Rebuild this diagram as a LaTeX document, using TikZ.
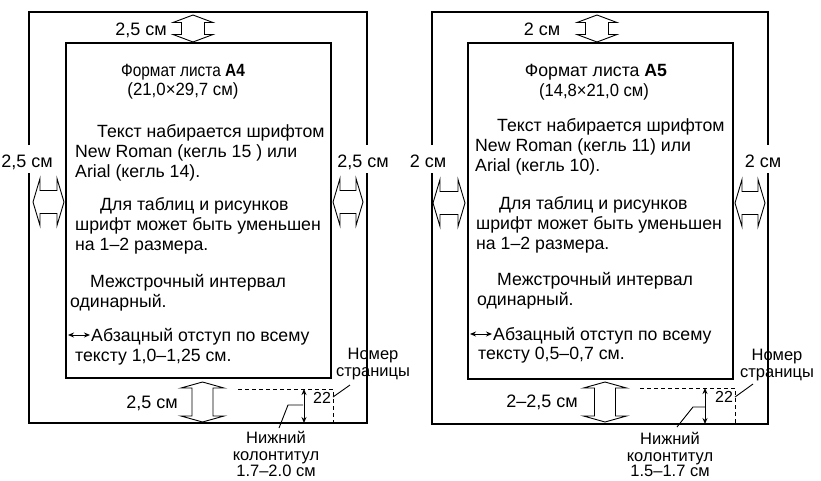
\documentclass[tikz,border=0pt]{standalone}
\usepackage{fontspec}
\setmainfont{Liberation Sans}
\usetikzlibrary{arrows.meta}
\newcommand{\blockV}[6]{% cx, ytop, ybot, shaft half, head half, head length
  \draw[blockarrow] (#1,#2) -- ({#1-#5},{#2+#6}) -- ({#1-#4},{#2+#6}) -- ({#1-#4},{#3-#6}) -- ({#1-#5},{#3-#6}) -- (#1,#3) -- ({#1+#5},{#3-#6}) -- ({#1+#4},{#3-#6}) -- ({#1+#4},{#2+#6}) -- ({#1+#5},{#2+#6}) -- cycle;}
\newcommand{\blockH}[6]{% cy, xleft, xright, shaft half, head half, head length
  \draw[blockarrow] (#2,#1) -- ({#2+#6},{#1-#5}) -- ({#2+#6},{#1-#4}) -- ({#3-#6},{#1-#4}) -- ({#3-#6},{#1-#5}) -- (#3,#1) -- ({#3-#6},{#1+#5}) -- ({#3-#6},{#1+#4}) -- ({#2+#6},{#1+#4}) -- ({#2+#6},{#1+#5}) -- cycle;}
\begin{document}
\begin{tikzpicture}[x=1pt,y=-1pt,
  frame/.style={line width=1.2pt,black},
  blockarrow/.style={line width=0.9pt,black,line join=miter},
  dash line/.style={line width=1pt,dash pattern=on 4pt off 3pt},
  thin arrow/.style={line width=1pt,{Stealth[length=6pt,width=5pt]}-{Stealth[length=6pt,width=5pt]}},
  leader/.style={line width=0.9pt},
  txt/.style={anchor=base west,inner sep=0pt,font=\fontsize{17.7}{20}\selectfont},
  ctxt/.style={anchor=base,inner sep=0pt,font=\fontsize{17.7}{20}\selectfont},
  lbl/.style={anchor=base,inner sep=0pt,font=\fontsize{18}{20}\selectfont},
  small lbl/.style={anchor=base,inner sep=0pt,font=\fontsize{16.5}{17}\selectfont},
  num/.style={anchor=base west,inner sep=0pt,font=\fontsize{16}{18}\selectfont}]
\useasboundingbox (0,0) rectangle (821,480);

% ================= LEFT PAGE (A4) =================
\draw[frame] (29,145) -- (29,12) -- (367,12) -- (367,145);
\draw[frame] (29,173) -- (29,423) -- (367,423) -- (367,173);
\draw[frame] (66,43) rectangle (331,378);

\node[lbl] (La) at (141,35) {2,5 см};
\node[lbl] (Lb) at (27,167) {2,5 см};
\node[lbl] (Lc) at (363,167) {2,5 см};
\node[lbl] (Ld) at (152,408) {2,5 см};

\blockV{193}{15}{42}{11.5}{20}{7.5}
\blockH{202}{33}{64}{11.5}{23.5}{7}
\blockH{202}{333}{363}{11.5}{23.5}{7}
\blockV{202.5}{382}{422}{10.5}{21.5}{6}

\node[ctxt] (L1) at (183,76) {\scalebox{0.87}[1]{Формат листа \textbf{A4}}};
\node[ctxt] (L2) at (183,95) {\scalebox{0.95}[1]{(21,0×29,7 см)}};
\node[txt] (L3) at (97,137) {Текст набирается шрифтом};
\node[txt] (L4) at (75,157) {New Roman (кегль 15 ) или};
\node[txt] (L5) at (75,177) {Arial (кегль 14).};
\node[txt] (L6) at (100,210) {Для таблиц и рисунков};
\node[txt] (L7) at (75,230) {шрифт может быть уменьшен};
\node[txt] (L8) at (75,250) {на 1–2 размера.};
\node[txt] (L9) at (90,287) {Межстрочный интервал};
\node[txt] (L10) at (70,307) {одинарный.};
\coordinate (La1) at (68,335);
\coordinate (La2) at (90,335);
\draw[thin arrow] (La1) -- (La2);
\node[txt] (L11) at (91,341) {Абзацный отступ по всему};
\node[txt] (L12) at (75,361) {тексту 1,0–1,25 см.};

% footer
\coordinate (Ld1) at (238,389);
\coordinate (Ld2) at (333,389);
\coordinate (Ld3) at (333,423);
\draw[dash line] (Ld1) -- (Ld2) -- (Ld3);
\coordinate (Lf1) at (304,389);
\coordinate (Lf2) at (304,423);
\draw[thin arrow] (Lf1) -- (Lf2);
\node[num] (Lnum) at (313,403) {22};
\node[small lbl] (Ln1) at (373,359) {Номер};
\node[small lbl] (Ln2) at (373,376) {страницы};
\coordinate (Lp1) at (333,397);
\coordinate (Lp2) at (350,385);
\draw[leader] (Lp1) -- (Lp2);
\node[small lbl] (Lk1) at (276,443) {Нижний};
\node[small lbl] (Lk2) at (276,460) {колонтитул};
\node[small lbl] (Lk3) at (276,476) {1.7–2.0 см};
\coordinate (Lq1) at (279,428);
\coordinate (Lq2) at (288,405);
\coordinate (Lq3) at (303,405);
\draw[leader] (Lq1) -- (Lq2) -- (Lq3);

% ================= RIGHT PAGE (A5) =================
\draw[frame] (432,145) -- (432,12) -- (768,12) -- (768,145);
\draw[frame] (432,173) -- (432,424) -- (768,424) -- (768,173);
\draw[frame] (468,43) rectangle (733,379);

\node[lbl] (Ra) at (542,35) {2 см};
\node[lbl] (Rb) at (428,167) {2 см};
\node[lbl] (Rc) at (763,167) {2 см};
\node[lbl] (Rd) at (542,407) {2–2,5 см};

\blockV{597}{15}{42}{11.5}{20}{7.5}
\blockH{203}{433}{465}{11.5}{23.5}{7}
\blockH{203}{735}{765}{11.5}{23.5}{7}
\blockV{605}{382}{422}{10.5}{21.5}{6}

\node[ctxt] (R1) at (596,76) {Формат листа \textbf{A5}};
\node[ctxt] (R2) at (594,96) {\scalebox{0.94}[1]{(14,8×21,0 см)}};
\node[txt] (R3) at (497,131) {Текст набирается шрифтом};
\node[txt] (R4) at (475,151) {New Roman (кегль 11) или};
\node[txt] (R5) at (475,171) {Arial (кегль 10).};
\node[txt] (R6) at (499,209) {Для таблиц и рисунков};
\node[txt] (R7) at (476,229) {шрифт может быть уменьшен};
\node[txt] (R8) at (476,249) {на 1–2 размера.};
\node[txt] (R9) at (497,285) {Межстрочный интервал};
\node[txt] (R10) at (477,305) {одинарный.};
\coordinate (Ra1) at (470,334);
\coordinate (Ra2) at (492,334);
\draw[thin arrow] (Ra1) -- (Ra2);
\node[txt] (R11) at (493,340) {Абзацный отступ по всему};
\node[txt] (R12) at (478,359) {тексту 0,5–0,7 см.};

% footer
\coordinate (Rd1) at (640,388);
\coordinate (Rd2) at (735,388);
\coordinate (Rd3) at (735,424);
\draw[dash line] (Rd1) -- (Rd2) -- (Rd3);
\coordinate (Rf1) at (705,388);
\coordinate (Rf2) at (705,424);
\draw[thin arrow] (Rf1) -- (Rf2);
\node[num] (Rnum) at (715,402) {22};
\node[small lbl] (Rn1) at (777,360) {Номер};
\node[small lbl] (Rn2) at (777,377) {страницы};
\coordinate (Rp1) at (735,397);
\coordinate (Rp2) at (753,384);
\draw[leader] (Rp1) -- (Rp2);
\node[small lbl] (Rk1) at (670,444) {Нижний};
\node[small lbl] (Rk2) at (670,461) {колонтитул};
\node[small lbl] (Rk3) at (670,476) {1.5–1.7 см};
\coordinate (Rq1) at (677,427);
\coordinate (Rq2) at (693,407);
\coordinate (Rq3) at (705,407);
\draw[leader] (Rq1) -- (Rq2) -- (Rq3);
\end{tikzpicture}
\end{document}
